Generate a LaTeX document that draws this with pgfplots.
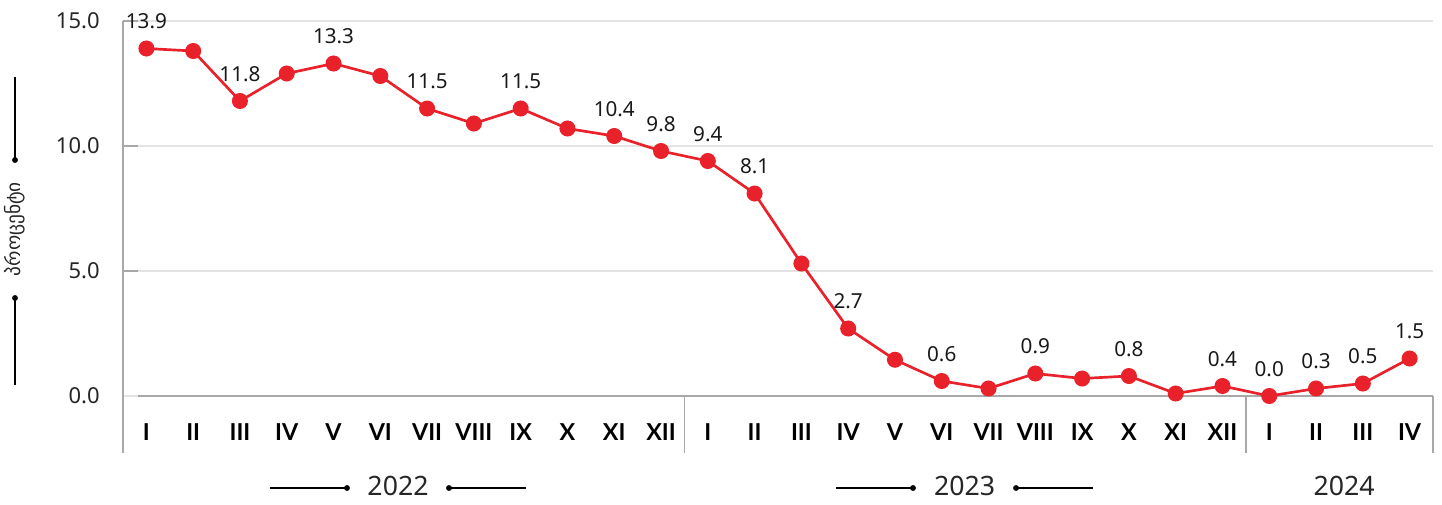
\documentclass[border=0pt]{standalone}
\usepackage{pgfplots}
\pgfplotsset{compat=1.18}
\usepackage{pgfplotstable}
\usepackage{fontspec}
\setmainfont{Noto Sans}
\newfontfamily\geo{DejaVu Sans}
\newfontfamily\rom{Lato}
\definecolor{lred}{HTML}{E8212B}
\definecolor{gridc}{HTML}{E3E3E3}
\definecolor{axc}{HTML}{A8A8A8}
\pgfplotstableread{
x y
0 13.9
1 13.8
2 11.8
3 12.9
4 13.3
5 12.8
6 11.5
7 10.9
8 11.5
9 10.7
10 10.4
11 9.8
12 9.4
13 8.1
14 5.3
15 2.7
16 1.45
17 0.6
18 0.3
19 0.9
20 0.7
21 0.8
22 0.1
23 0.4
24 0.0
25 0.3
26 0.5
27 1.5
}\alldata
\pgfplotstableread{
x y
0 13.9
2 11.8
4 13.3
6 11.5
8 11.5
10 10.4
11 9.8
12 9.4
13 8.1
15 2.7
17 0.6
19 0.9
21 0.8
23 0.4
24 0.0
25 0.3
26 0.5
27 1.5
}\labdata
\begin{document}
\begin{tikzpicture}
\useasboundingbox (0,0) rectangle (1081.5pt,-378pt);
\begin{axis}[
  at={(92.25pt,-15.75pt)}, anchor=north west,
  scale only axis, width=982.5pt, height=281.25pt,
  xmin=-0.5, xmax=27.5, ymin=0, ymax=15,
  clip=false,
  axis line style={draw=none},
  ytick={0,5,10,15},
  yticklabel={\pgfmathprintnumber[fixed,fixed zerofill,precision=1]{\tick}},
  /pgf/number format/assume math mode=true,
  yticklabel style={font=\fontsize{16.5}{18}\selectfont, text=black!85, xshift=-14pt},
  xtick=data,
  xticklabels={I,II,III,IV,V,VI,VII,VIII,IX,X,XI,XII,I,II,III,IV,V,VI,VII,VIII,IX,X,XI,XII,I,II,III,IV},
  xticklabel style={font=\rom\fontsize{17.5}{18}\selectfont\bfseries, anchor=center, yshift=-27pt},
  major tick length=0pt,
  ymajorgrids, major grid style={gridc, line width=0.8pt},
]
% axis decorations
\draw[axc, line width=1pt] (axis cs:-0.5,-2.28) -- (axis cs:-0.5,15);
\draw[axc, line width=1pt] (axis cs:-0.5,0) ++(-6pt,0) -- (axis cs:27.5,0);
\draw[axc, line width=1pt] (axis cs:-0.5,5) -- ++(-6pt,0);
\draw[axc, line width=1pt] (axis cs:-0.5,10) -- ++(-6pt,0);
\draw[axc, line width=1pt] (axis cs:-0.5,15) -- ++(-6pt,0);
\draw[axc, line width=1pt] (axis cs:11.5,0) -- (axis cs:11.5,-2.28);
\draw[axc, line width=1pt] (axis cs:23.5,0) -- (axis cs:23.5,-2.28);
\draw[axc, line width=1pt] (axis cs:27.5,0) -- (axis cs:27.5,-2.28);
\addplot[lred, line width=2pt, mark=*, mark size=5pt, mark options={fill=lred, draw=none}] table[x=x,y=y] {\alldata};
\addplot[draw=none, mark=none, nodes near coords={\pgfmathprintnumber[fixed,fixed zerofill,precision=1]{\pgfplotspointmeta}},
  every node near coord/.append style={font=\fontsize{15.5}{18}\selectfont, text=black!90, anchor=center, yshift=20.5pt, inner sep=0pt}] table[x=x,y=y] {\labdata};
\end{axis}
% year labels
\node[font=\fontsize{20}{22}\selectfont, text=black!85] at (298.5pt,-364.5pt) {2022};
\draw[black, line width=0.8pt] (202.5pt,-366pt) -- (260.25pt,-366pt);
\fill[black] (260.25pt,-366pt) circle (2.2pt);
\fill[black] (336.75pt,-366pt) circle (2.2pt);
\draw[black, line width=0.8pt] (336.75pt,-366pt) -- (394.5pt,-366pt);
\node[font=\fontsize{20}{22}\selectfont, text=black!85] at (723.4pt,-364.5pt) {2023};
\draw[black, line width=0.8pt] (627pt,-366pt) -- (684.75pt,-366pt);
\fill[black] (684.75pt,-366pt) circle (2.2pt);
\fill[black] (762pt,-366pt) circle (2.2pt);
\draw[black, line width=0.8pt] (762pt,-366pt) -- (819.75pt,-366pt);
\node[font=\fontsize{20}{22}\selectfont, text=black!85] at (1008pt,-364.5pt) {2024};
% y label
\draw[black, line width=0.8pt] (11.25pt,-57.75pt) -- (11.25pt,-120pt);
\fill[black] (11.25pt,-120pt) circle (2.2pt);
\node[rotate=90, font=\geo\fontsize{14.5}{16}\selectfont, text=black!85] at (11.25pt,-171.75pt) {პროცენტი};
\fill[black] (11.25pt,-223.5pt) circle (2.2pt);
\draw[black, line width=0.8pt] (11.25pt,-223.5pt) -- (11.25pt,-288.75pt);
\end{tikzpicture}
\end{document}
